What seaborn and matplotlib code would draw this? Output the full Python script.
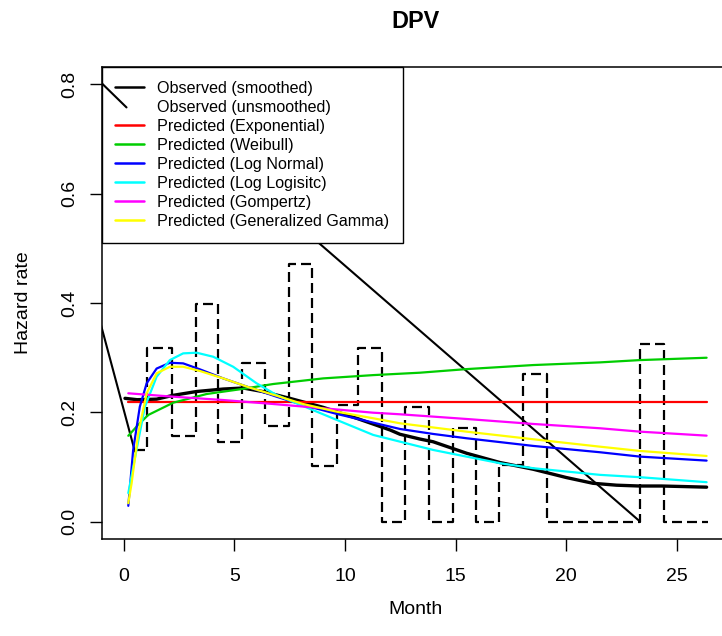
import matplotlib
matplotlib.use("Agg")
import matplotlib.pyplot as plt
from matplotlib.lines import Line2D
import seaborn as sns

# ---------------- data ----------------
smooth_x = [0.05, 0.6, 1.48, 2.23, 3.29, 4.49, 5.39, 6.3, 7.5, 9.01, 10.52, 12.03,
            12.48, 13.38, 13.98, 15.49, 17.0, 18.5, 20.0, 21.2, 22.27, 23.3, 24.3, 25.3, 26.34]
smooth_y = [0.2255, 0.223, 0.224, 0.231, 0.238, 0.2425, 0.2444, 0.2377, 0.2255, 0.209, 0.189, 0.1676,
            0.1597, 0.151, 0.146, 0.125, 0.108, 0.0957, 0.0805, 0.070, 0.0665, 0.065, 0.065, 0.064, 0.0629]

# observed (unsmoothed) step hazard
step_edges = [0.5, 1.05, 2.16, 3.24, 4.24, 5.35, 6.40, 7.46, 8.51, 9.62, 10.59, 11.69,
              12.70, 13.80, 14.89, 15.91, 16.97, 18.05, 19.11, 23.33, 24.43, 26.42]
step_vals = [0.131, 0.318, 0.157, 0.399, 0.145, 0.2895, 0.174, 0.4705, 0.102, 0.213, 0.318,
             0.0, 0.210, 0.0, 0.171, 0.0, 0.103, 0.270, 0.0, 0.325, 0.0]

# thin solid observed segments
thin_a_x = [-1.5, 0.5]
thin_a_y = [0.430, 0.128]
thin_b_x = [-1.5, 0.12]
thin_b_y = [0.822, 0.758]
thin_c_x = [3.0, 23.33]
thin_c_y = [0.714, 0.0]

exp_x = [0.2, 26.34]
exp_y = [0.2193, 0.2193]

weib_x = [0.2, 0.65, 1.1, 2.23, 3.74, 5.24, 6.75, 9.01, 11.27, 13.38, 15.49, 18.5, 21.52, 23.33, 26.34]
weib_y = [0.157, 0.177, 0.195, 0.2175, 0.2334, 0.242, 0.2517, 0.262, 0.268, 0.2724, 0.279, 0.2864,
          0.2913, 0.2955, 0.2998]

lnorm_x = [0.2, 0.42, 0.72, 1.03, 1.48, 2.08, 2.68, 3.44, 4.49, 5.7, 6.9, 8.1, 9.62, 11.27, 12.48,
           13.98, 15.49, 18.5, 21.52, 23.33, 26.34]
lnorm_y = [0.0287, 0.131, 0.21, 0.253, 0.280, 0.2906, 0.2895, 0.2785, 0.262, 0.245, 0.2285, 0.2133,
           0.197, 0.181, 0.1694, 0.1603, 0.1524, 0.1384, 0.1268, 0.1188, 0.1115]

llogis_x = [0.2, 0.57, 0.95, 1.48, 2.08, 2.68, 3.29, 4.04, 4.94, 6.0, 6.9, 8.1, 9.62, 11.27, 12.48,
            13.98, 15.49, 17.0, 18.5, 21.52, 23.33, 26.34]
llogis_y = [0.052, 0.131, 0.21, 0.265, 0.2955, 0.3078, 0.309, 0.3016, 0.2833, 0.253, 0.2316, 0.2115,
            0.186, 0.1585, 0.1462, 0.131, 0.1188, 0.1067, 0.0976, 0.0854, 0.0811, 0.072]

gomp_x = [0.2, 2.23, 4.49, 6.75, 9.01, 11.27, 12.48, 15.49, 18.5, 21.52, 23.33, 26.34]
gomp_y = [0.2347, 0.2285, 0.2224, 0.2151, 0.2073, 0.1992, 0.1963, 0.1877, 0.1786, 0.1707, 0.1645, 0.1572]

ggam_x = [0.2, 0.35, 0.65, 1.03, 1.48, 2.08, 2.68, 3.44, 4.49, 5.7, 6.9, 8.1, 9.62, 11.27, 12.48,
          15.49, 18.5, 21.52, 23.33, 26.34]
ggam_y = [0.0336, 0.070, 0.1616, 0.2347, 0.2712, 0.2833, 0.2833, 0.2755, 0.262, 0.245, 0.2303, 0.2151,
          0.201, 0.189, 0.1798, 0.1645, 0.1506, 0.137, 0.1292, 0.120]

labels = ["Observed (smoothed)", "Observed (unsmoothed)", "Predicted (Exponential)",
          "Predicted (Weibull)", "Predicted (Log Normal)", "Predicted (Log Logisitc)",
          "Predicted (Gompertz)", "Predicted (Generalized Gamma)"]
colors = ["#000000", None, "#FF0000", "#00CD00", "#0000FF", "#00FFFF", "#FF00FF", "#FFFF00"]
x_ticks = [0, 5, 10, 15, 20, 25]
y_ticks = [0.0, 0.2, 0.4, 0.6, 0.8]

# ---------------- style ----------------
sns.set_style("ticks")
plt.rcParams["font.family"] = ["Liberation Sans", "DejaVu Sans"]
plt.rcParams["text.color"] = "black"
plt.rcParams["axes.labelcolor"] = "black"
plt.rcParams["lines.scale_dashes"] = False
plt.rcParams["lines.solid_capstyle"] = "round"
plt.rcParams["lines.dash_capstyle"] = "butt"

W, H = 722, 636
fig = plt.figure(figsize=(W / 100, H / 100), dpi=100)
left_px, right_px, top_px, bot_px = 101.7, 730.1, 67, 539
ax = fig.add_axes([left_px / W, (H - bot_px) / H, (right_px - left_px) / W, (bot_px - top_px) / H])

def line(x, y, **kw):
    sns.lineplot(x=x, y=y, ax=ax, sort=False, estimator=None, legend=False, **kw)

# observed smoothed
line(smooth_x, smooth_y, color="black", linewidth=2.4, zorder=3)
# observed unsmoothed (step) + thin segments
line(step_edges, step_vals + [step_vals[-1]], color="black", linewidth=1.6,
     drawstyle="steps-post", linestyle=(0, (7.2, 3.6)), zorder=2)
line(thin_a_x, thin_a_y, color="black", linewidth=1.5, zorder=2)
line(thin_c_x, thin_c_y, color="black", linewidth=1.5, zorder=2)
# predicted
line(exp_x, exp_y, color=colors[2], linewidth=1.6, zorder=3)
line(weib_x, weib_y, color=colors[3], linewidth=1.6, zorder=3)
line(lnorm_x, lnorm_y, color=colors[4], linewidth=1.6, zorder=3)
line(llogis_x, llogis_y, color=colors[5], linewidth=1.6, zorder=3)
line(gomp_x, gomp_y, color=colors[6], linewidth=1.6, zorder=3)
line(ggam_x, ggam_y, color=colors[7], linewidth=1.6, zorder=3)

ax.set_xlim(-1.002, 27.402)
ax.set_ylim(-0.032, 0.832)
ax.set_xticks(x_ticks)
ax.set_xticklabels([str(t) for t in x_ticks])
ax.set_yticks(y_ticks)
ax.set_yticklabels([f"{t:.1f}" for t in y_ticks], rotation=90, va="center")
ax.tick_params(axis="both", direction="out", length=8.6, width=1.0, color="black",
               labelsize=14, labelcolor="black")
ax.tick_params(axis="x", pad=12.5)
ax.tick_params(axis="y", pad=8)
for s in ["left", "bottom", "top"]:
    ax.spines[s].set_linewidth(1.1)
    ax.spines[s].set_color("black")
ax.spines["right"].set_visible(False)
ax.set_xlabel("Month", fontsize=14, labelpad=11, color="black")
ax.set_ylabel("Hazard rate", fontsize=14, labelpad=21, color="black")
fig.text((left_px + right_px) / 2 / W, 1 - 21 / H, "DPV", ha="center", va="center",
         fontsize=16.8, fontweight="bold", color="black")

handles = []
for lab, c in zip(labels, colors):
    if c is None:
        handles.append(Line2D([], [], linestyle="none", label=lab))
    else:
        handles.append(Line2D([], [], color=c, linewidth=1.8, label=lab))
leg = ax.legend(handles=handles, loc="upper left", bbox_to_anchor=(0, 1), borderaxespad=0,
                fontsize=11.6, frameon=True, fancybox=False, framealpha=1, edgecolor="black",
                handlelength=1.75, handletextpad=0.85, labelspacing=0.25, borderpad=0.85)
leg.get_frame().set_linewidth(1.0)
for t in leg.get_texts():
    t.set_color("black")
leg.set_zorder(5)

# short observed segment visible over the legend corner
line(thin_b_x, thin_b_y, color="black", linewidth=1.5, zorder=6)

fig.savefig("out.png", dpi=100)
